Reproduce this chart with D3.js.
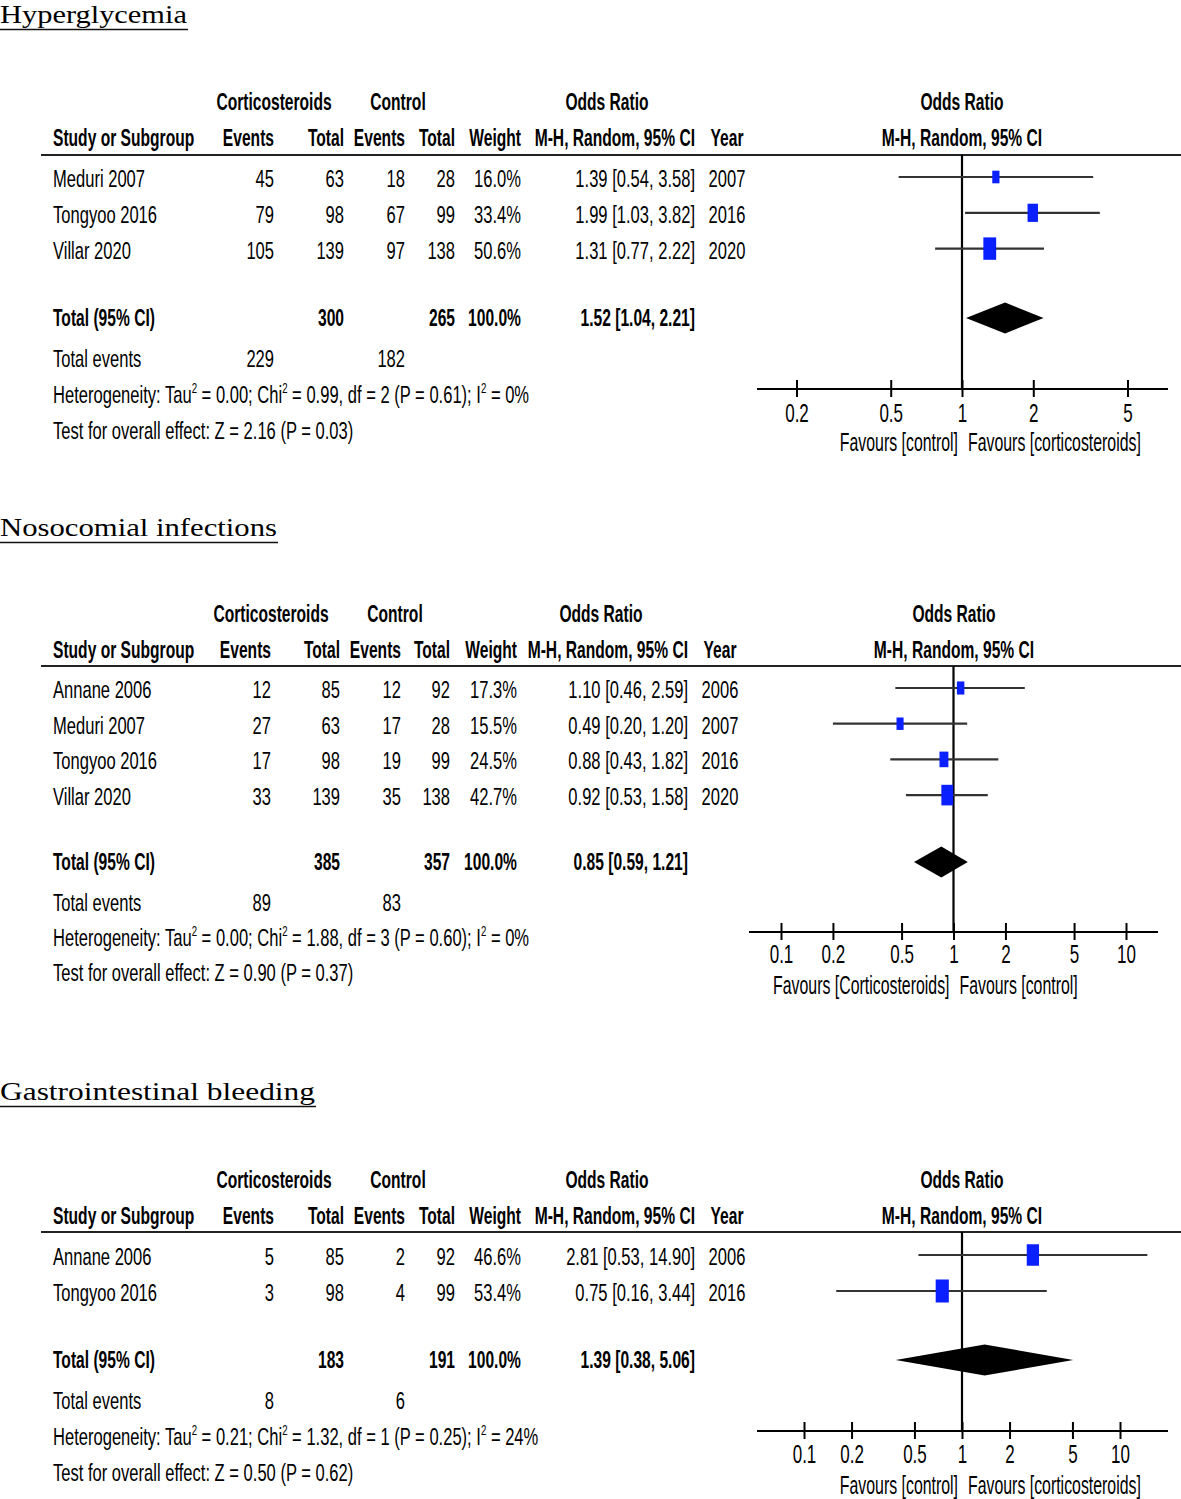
<!DOCTYPE html>
<html><head><meta charset="utf-8">
<script src="https://cdn.jsdelivr.net/npm/d3@7"></script>
<style>
body{margin:0;background:#fff}
svg{display:block}
text{font-family:"Liberation Sans",Arial,sans-serif;fill:#000}
.ttl{font-family:"Liberation Serif","DejaVu Serif",serif}
</style>
</head><body>
<svg id="c" width="1181" height="1499"></svg>
<script>
// ---------- DATA ----------
// Panel 1: Hyperglycemia
const hgTitle = "Hyperglycemia";
const hgStudies = ["Meduri 2007", "Tongyoo 2016", "Villar 2020"];
const hgCortEvents = [45, 79, 105];
const hgCortTotal = [63, 98, 139];
const hgCtrlEvents = [18, 67, 97];
const hgCtrlTotal = [28, 99, 138];
const hgWeight = [16.0, 33.4, 50.6];
const hgOR = [1.39, 1.99, 1.31];
const hgLo = [0.54, 1.03, 0.77];
const hgHi = [3.58, 3.82, 2.22];
const hgYear = [2007, 2016, 2020];
const hgTotals = [300, 265];          // cort total, ctrl total
const hgTotalEvents = [229, 182];
const hgPooled = [1.52, 1.04, 2.21];  // OR, lo, hi
const hgHet = [0.00, 0.99, 2, 0.61, 0]; // tau2, chi2, df, P, I2
const hgTest = [2.16, 0.03];           // Z, P
const hgTicks = [0.2, 0.5, 1, 2, 5];
const hgFavours = ["Favours [control]", "Favours [corticosteroids]"];

// Panel 2: Nosocomial infections
const niTitle = "Nosocomial infections";
const niStudies = ["Annane 2006", "Meduri 2007", "Tongyoo 2016", "Villar 2020"];
const niCortEvents = [12, 27, 17, 33];
const niCortTotal = [85, 63, 98, 139];
const niCtrlEvents = [12, 17, 19, 35];
const niCtrlTotal = [92, 28, 99, 138];
const niWeight = [17.3, 15.5, 24.5, 42.7];
const niOR = [1.10, 0.49, 0.88, 0.92];
const niLo = [0.46, 0.20, 0.43, 0.53];
const niHi = [2.59, 1.20, 1.82, 1.58];
const niYear = [2006, 2007, 2016, 2020];
const niTotals = [385, 357];
const niTotalEvents = [89, 83];
const niPooled = [0.85, 0.59, 1.21];
const niHet = [0.00, 1.88, 3, 0.60, 0];
const niTest = [0.90, 0.37];
const niTicks = [0.1, 0.2, 0.5, 1, 2, 5, 10];
const niFavours = ["Favours [Corticosteroids]", "Favours [control]"];

// Panel 3: Gastrointestinal bleeding
const gbTitle = "Gastrointestinal bleeding";
const gbStudies = ["Annane 2006", "Tongyoo 2016"];
const gbCortEvents = [5, 3];
const gbCortTotal = [85, 98];
const gbCtrlEvents = [2, 4];
const gbCtrlTotal = [92, 99];
const gbWeight = [46.6, 53.4];
const gbOR = [2.81, 0.75];
const gbLo = [0.53, 0.16];
const gbHi = [14.90, 3.44];
const gbYear = [2006, 2016];
const gbTotals = [183, 191];
const gbTotalEvents = [8, 6];
const gbPooled = [1.39, 0.38, 5.06];
const gbHet = [0.21, 1.32, 1, 0.25, 24];
const gbTest = [0.50, 0.62];
const gbTicks = [0.1, 0.2, 0.5, 1, 2, 5, 10];
const gbFavours = ["Favours [control]", "Favours [corticosteroids]"];

// ---------- DRAWING ----------
const svg = d3.select("#c");
const SX = 0.69, SXB = 0.65, FS = 24;

function txt(g, x, y, s, o = {}) {
  const bold = !!o.bold;
  const t = g.append("text")
    .attr("transform", `translate(${x},${y}) scale(${o.sx || (bold ? SXB : SX)},1)`)
    .attr("text-anchor", o.anchor || "start")
    .style("font-size", (o.size || FS) + "px")
    .style("font-weight", bold ? "bold" : "normal");
  if (Array.isArray(s)) {
    let lift = 0;
    s.forEach(seg => {
      const sp = t.append("tspan");
      if (seg.sup) {
        sp.attr("dy", -10).style("font-size", "14px");
        lift = 10;
      } else if (lift) {
        sp.attr("dy", lift);
        lift = 0;
      }
      sp.text(seg.t);
    });
  } else t.text(s);
  return t;
}
const f2 = d3.format(".2f"), f1 = d3.format(".1f");
const ciStr = (o, l, h) => `${f2(o)} [${f2(l)}, ${f2(h)}]`;

function drawPanel(d, L) {
  const g = svg.append("g");
  // title
  g.append("text").attr("class", "ttl").attr("x", 0).attr("y", L.titleY)
    .style("font-size", "25px").attr("textLength", L.titleW).attr("lengthAdjust", "spacingAndGlyphs")
    .text(d.title);
  g.append("line").attr("x1", 0).attr("x2", L.titleW + 1).attr("y1", L.titleY + 6.5).attr("y2", L.titleY + 6.5)
    .attr("stroke", "#111").attr("stroke-width", 1.6);

  const C = L.col;
  // header row 1
  txt(g, C.h1cort, L.h1Y, "Corticosteroids", {bold: true, anchor: "middle"});
  txt(g, C.h1ctrl, L.h1Y, "Control", {bold: true, anchor: "middle"});
  txt(g, C.h1or, L.h1Y, "Odds Ratio", {bold: true, anchor: "middle"});
  txt(g, L.x1, L.h1Y, "Odds Ratio", {bold: true, anchor: "middle"});
  // header row 2
  txt(g, 53, L.h2Y, "Study or Subgroup", {bold: true});
  txt(g, C.ev, L.h2Y, "Events", {bold: true, anchor: "end"});
  txt(g, C.tot, L.h2Y, "Total", {bold: true, anchor: "end"});
  txt(g, C.cev, L.h2Y, "Events", {bold: true, anchor: "end"});
  txt(g, C.ctot, L.h2Y, "Total", {bold: true, anchor: "end"});
  txt(g, C.wt, L.h2Y, "Weight", {bold: true, anchor: "end"});
  txt(g, C.ci, L.h2Y, "M-H, Random, 95% CI", {bold: true, anchor: "end"});
  txt(g, C.yr, L.h2Y, "Year", {bold: true, anchor: "middle"});
  txt(g, L.x1, L.h2Y, "M-H, Random, 95% CI", {bold: true, anchor: "middle"});
  // rule
  g.append("line").attr("x1", 41).attr("x2", 1181).attr("y1", L.ruleY).attr("y2", L.ruleY)
    .attr("stroke", "#222").attr("stroke-width", 2);

  const x = d3.scaleLog().domain([d.ticks[0], d.ticks[d.ticks.length - 1]]).range(L.tickRange);

  // vertical null line
  g.append("line").attr("x1", x(1)).attr("x2", x(1)).attr("y1", L.ruleY).attr("y2", L.axisY)
    .attr("stroke", "#000").attr("stroke-width", 2.2);

  d.studies.forEach((s, i) => {
    const y = L.rowY0 + i * L.rowStep;
    txt(g, 53, y, s);
    txt(g, C.ev, y, String(d.ce[i]), {anchor: "end"});
    txt(g, C.tot, y, String(d.ct[i]), {anchor: "end"});
    txt(g, C.cev, y, String(d.ke[i]), {anchor: "end"});
    txt(g, C.ctot, y, String(d.kt[i]), {anchor: "end"});
    txt(g, C.wt, y, f1(d.w[i]) + "%", {anchor: "end"});
    txt(g, C.ci, y, ciStr(d.or[i], d.lo[i], d.hi[i]), {anchor: "end"});
    txt(g, C.yr, y, String(d.yr[i]), {anchor: "middle"});
    const my = y - 10;
    g.append("line").attr("x1", x(d.lo[i])).attr("x2", x(d.hi[i])).attr("y1", my).attr("y2", my)
      .attr("stroke", "#333").attr("stroke-width", 2.2);
    const bw = 1.8 * Math.sqrt(d.w[i]), bh = bw * 1.75;
    g.append("rect").attr("x", x(d.or[i]) - bw / 2).attr("y", my - bh / 2)
      .attr("width", bw).attr("height", bh).attr("fill", "#0a20ff");
  });

  // totals
  txt(g, 53, L.totalY, "Total (95% CI)", {bold: true});
  txt(g, C.tot, L.totalY, String(d.totals[0]), {bold: true, anchor: "end"});
  txt(g, C.ctot, L.totalY, String(d.totals[1]), {bold: true, anchor: "end"});
  txt(g, C.wt, L.totalY, "100.0%", {bold: true, anchor: "end"});
  txt(g, C.ci, L.totalY, ciStr(...d.pooled), {bold: true, anchor: "end"});
  const dy = L.totalY - 8, hh = 15.5;
  g.append("path").attr("fill", "#000")
    .attr("d", `M${x(d.pooled[1])},${dy}L${x(d.pooled[0])},${dy - hh}L${x(d.pooled[2])},${dy}L${x(d.pooled[0])},${dy + hh}Z`);

  txt(g, 53, L.tevY, "Total events");
  txt(g, C.ev, L.tevY, String(d.tev[0]), {anchor: "end"});
  txt(g, C.cev, L.tevY, String(d.tev[1]), {anchor: "end"});

  const h = d.het;
  txt(g, 53, L.hetY, [
    {t: "Heterogeneity: Tau"}, {t: "2", sup: true},
    {t: ` = ${f2(h[0])}; Chi`}, {t: "2", sup: true},
    {t: ` = ${f2(h[1])}, df = ${h[2]} (P = ${f2(h[3])}); I`}, {t: "2", sup: true},
    {t: ` = ${h[4]}%`}
  ]);
  txt(g, 53, L.testY, `Test for overall effect: Z = ${f2(d.test[0])} (P = ${f2(d.test[1])})`);

  // axis
  g.append("line").attr("x1", L.axisL).attr("x2", L.axisR).attr("y1", L.axisY).attr("y2", L.axisY)
    .attr("stroke", "#000").attr("stroke-width", 2);
  const ax = g.append("g").attr("transform", `translate(0,${L.axisY})`)
    .call(d3.axisBottom(x).tickValues(d.ticks).tickFormat(v => String(v)).tickSizeOuter(0));
  ax.select(".domain").remove();
  ax.selectAll(".tick line").attr("y1", -9).attr("y2", 8).attr("stroke", "#000").attr("stroke-width", 2);
  ax.selectAll(".tick text").attr("y", L.tickDy).attr("dy", null)
    .attr("transform", "scale(0.68,1)")
    .style("font-size", "25px").style("font-family", '"Liberation Sans",Arial,sans-serif').attr("fill", "#000");

  txt(g, x(1) - 4, L.favY, d.favours[0], {anchor: "end", size: 25, sx: 0.635});
  txt(g, x(1) + 6, L.favY, d.favours[1], {anchor: "start", size: 25, sx: 0.635});
}

const colA = {ev: 274, tot: 344, cev: 405, ctot: 455, wt: 521, ci: 695, yr: 727, h1cort: 274, h1ctrl: 398, h1or: 607};
const colB = {ev: 271, tot: 340, cev: 401, ctot: 450, wt: 517, ci: 688, yr: 720, h1cort: 271, h1ctrl: 395, h1or: 601};

drawPanel({
  title: hgTitle, studies: hgStudies, ce: hgCortEvents, ct: hgCortTotal, ke: hgCtrlEvents, kt: hgCtrlTotal,
  w: hgWeight, or: hgOR, lo: hgLo, hi: hgHi, yr: hgYear, totals: hgTotals, tev: hgTotalEvents,
  pooled: hgPooled, het: hgHet, test: hgTest, ticks: hgTicks, favours: hgFavours
}, {
  titleY: 23, titleW: 187, h1Y: 110, h2Y: 146, ruleY: 155, rowY0: 187, rowStep: 35.8,
  totalY: 326, tevY: 367, hetY: 403, testY: 439, col: colA, x1: 962,
  tickRange: [796.5, 1127.5], axisL: 757, axisR: 1168, axisY: 389, tickDy: 33, favY: 451
});

drawPanel({
  title: niTitle, studies: niStudies, ce: niCortEvents, ct: niCortTotal, ke: niCtrlEvents, kt: niCtrlTotal,
  w: niWeight, or: niOR, lo: niLo, hi: niHi, yr: niYear, totals: niTotals, tev: niTotalEvents,
  pooled: niPooled, het: niHet, test: niTest, ticks: niTicks, favours: niFavours
}, {
  titleY: 536, titleW: 277, h1Y: 622, h2Y: 658, ruleY: 666, rowY0: 698, rowStep: 35.7,
  totalY: 870, tevY: 911, hetY: 946, testY: 981, col: colB, x1: 954,
  tickRange: [781, 1126], axisL: 749, axisR: 1158, axisY: 932, tickDy: 31, favY: 994
});

drawPanel({
  title: gbTitle, studies: gbStudies, ce: gbCortEvents, ct: gbCortTotal, ke: gbCtrlEvents, kt: gbCtrlTotal,
  w: gbWeight, or: gbOR, lo: gbLo, hi: gbHi, yr: gbYear, totals: gbTotals, tev: gbTotalEvents,
  pooled: gbPooled, het: gbHet, test: gbTest, ticks: gbTicks, favours: gbFavours
}, {
  titleY: 1100, titleW: 315, h1Y: 1188, h2Y: 1224, ruleY: 1232, rowY0: 1265, rowStep: 36,
  totalY: 1368, tevY: 1409, hetY: 1445, testY: 1481, col: colA, x1: 962,
  tickRange: [804, 1120], axisL: 757, axisR: 1168, axisY: 1431, tickDy: 32, favY: 1494
});
</script>
</body></html>
